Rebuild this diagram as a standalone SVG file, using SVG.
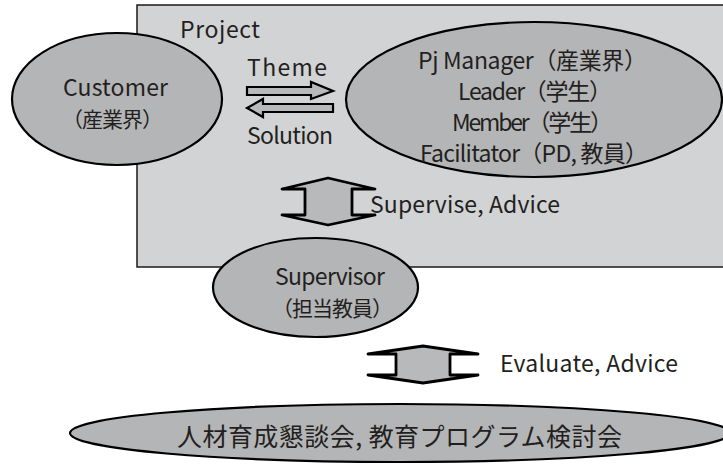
<svg xmlns="http://www.w3.org/2000/svg" width="723" height="464" viewBox="0 0 723 464">
<style>
.bg{fill:#ffffff}
.proj{fill:#d2d3d5;stroke:#1a1a1a;stroke-width:1.5}
.node{fill:#b4b5b6;stroke:#000000;stroke-width:2.2}
.arrow{fill:#b8b9ba;stroke:#000000;stroke-width:2.2;stroke-linejoin:miter}
.dbl{fill:#b8b9ba;stroke:#000000;stroke-width:2.8;stroke-linejoin:round}
text{font-family:"Noto Sans CJK JP","Noto Sans",sans-serif;font-size:23px;fill:#231f20}
.cj{font-size:21px}
.big{font-size:25px}
</style>
<rect class="bg" x="0" y="0" width="723" height="464"/>
<g id="project">
<rect class="proj" x="137" y="5" width="620" height="262"/>
<text x="180" y="38" textLength="80">Project</text>
</g>
<g id="connectors">
<polygon class="arrow" points="247,87 311,87 311,82 333,91 311,99 311,95 247,95"/>
<text x="247" y="76" textLength="80">Theme</text>
<polygon class="arrow" points="333,104 263,104 263,99 247,108 263,117 263,112 333,112"/>
<text x="247" y="144" textLength="86">Solution</text>
<polygon class="dbl" points="328,178 375,189 352,189 352,215 375,215 328,225 282,215 305,215 305,189 282,189"/>
<text x="370" y="213" textLength="190">Supervise, Advice</text>
<polygon class="dbl" points="423,346 478,354 450,354 450,375 478,375 423,383 368,375 396,375 396,354 368,354"/>
<text x="500" y="372" textLength="178">Evaluate, Advice</text>
</g>
<g id="customer">
<ellipse class="node" cx="117" cy="99" rx="105" ry="66"/>
<text x="63" y="96" textLength="105">Customer</text>
<text class="cj" x="62" y="127" textLength="101">（産業界）</text>
</g>
<g id="team">
<ellipse class="node" cx="534" cy="99.5" rx="188" ry="77.5"/>
<text x="418" y="69" textLength="229">Pj Manager（産業界）</text>
<text x="458" y="100" textLength="154">Leader（学生）</text>
<text x="452" y="131" textLength="161">Member（学生）</text>
<text x="420" y="162" textLength="228">Facilitator（PD, 教員）</text>
</g>
<g id="supervisor">
<ellipse class="node" cx="315.5" cy="287.5" rx="102.5" ry="49.5"/>
<text x="275" y="285" textLength="110">Supervisor</text>
<text class="cj" x="272" y="316" textLength="121">（担当教員）</text>
</g>
<g id="council">
<ellipse class="node" cx="400" cy="433" rx="330" ry="29"/>
<text class="big" x="177" y="446" textLength="445">人材育成懇談会, 教育プログラム検討会</text>
</g>
</svg>
